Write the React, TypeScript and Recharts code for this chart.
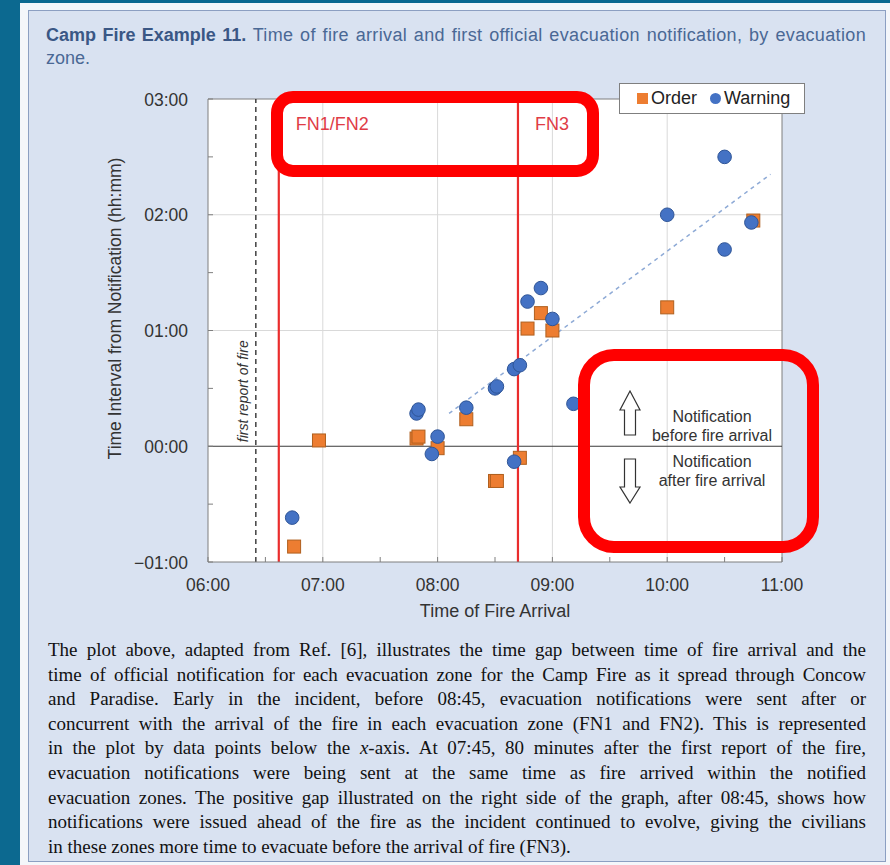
import React from 'react';
import {
  ScatterChart,
  Scatter,
  XAxis,
  YAxis,
  ReferenceLine,
  CartesianGrid,
  Legend,
} from 'recharts';

// ---------- data ----------
const orderArrival = ['06:45', '06:58', '07:49', '07:50', '08:00', '08:15', '08:30', '08:31', '08:43', '08:47', '08:54', '09:00', '10:00', '10:45'];
const orderLeadMin = [-52, 3, 4, 5, -1, 14, -18, -18, -6, 61, 69, 60, 72, 117];

const warningArrival = ['06:44', '07:49', '07:50', '07:57', '08:00', '08:15', '08:30', '08:31', '08:40', '08:43', '08:47', '08:54', '09:00', '09:11', '08:40', '10:00', '10:30', '10:30', '10:44'];
const warningLeadMin = [-37, 17, 19, -4, 5, 20, 30, 31, 40, 42, 75, 82, 66, 22, -8, 120, 150, 102, 116];

const trendArrival = ['08:06', '10:54'];
const trendLeadMin = [17, 141];

const firstReportTime = '06:25';
const fnLineTimes = ['06:37', '08:42'];
const fnLineLabels = ['FN1/FN2', 'FN3'];

const xTickTimes = ['06:00', '06:30', '07:00', '07:30', '08:00', '08:30', '09:00', '09:30', '10:00', '10:30', '11:00'];
const xGridTimes = ['07:00', '08:00', '09:00', '10:00'];
const yTickMin = [-60, -30, 0, 30, 60, 90, 120, 150, 180];
const yGridMin = [60, 120];

const captionLines = [
  'The plot above, adapted from Ref. [6], illustrates the time gap between time of fire arrival and the',
  'time of official notification for each evacuation zone for the Camp Fire as it spread through Concow',
  'and Paradise. Early in the incident, before 08:45, evacuation notifications were sent after or',
  'concurrent with the arrival of the fire in each evacuation zone (FN1 and FN2). This is represented',
  'in the plot by data points below the x-axis. At 07:45, 80 minutes after the first report of the fire,',
  'evacuation notifications were being sent at the same time as fire arrived within the notified',
  'evacuation zones. The positive gap illustrated on the right side of the graph, after 08:45, shows how',
  'notifications were issued ahead of the fire as the incident continued to evolve, giving the civilians',
  'in these zones more time to evacuate before the arrival of fire (FN3).',
];

// ---------- helpers ----------
const SANS = '"Liberation Sans", Arial, sans-serif';
const SERIF = '"Liberation Serif", "Times New Roman", serif';

const hhmm = (s: string) => {
  const [h, m] = s.split(':').map(Number);
  return h + m / 60;
};
const pad = (n: number) => String(n).padStart(2, '0');
const fmtHours = (v: number) => {
  if (Math.abs(v - Math.round(v)) > 1e-6) return '';
  const r = Math.round(v);
  return `${r < 0 ? '\u2212' : ''}${pad(Math.abs(r))}:00`;
};

const orderData = orderArrival.map((t, i) => ({ x: hhmm(t), y: orderLeadMin[i] / 60 }));
const warningData = warningArrival.map((t, i) => ({ x: hhmm(t), y: warningLeadMin[i] / 60 }));
const trendSegment = trendArrival.map((t, i) => ({ x: hhmm(t), y: trendLeadMin[i] / 60 }));
const xTicks = xTickTimes.map(hhmm);
const yTicks = yTickMin.map((m) => m / 60);

const ORANGE = '#ED7D31';
const BLUE = '#4472C4';
const RED = '#ea2d2d';
const AXIS = '#7f7f7f';

const X_MARGIN = 17;
const Y_MARGIN = 20;

const XTick = (p: any) => {
  const label = fmtHours(p.payload.value);
  const ay = p.y - X_MARGIN;
  return (
    <g>
      <line x1={p.x} x2={p.x} y1={ay} y2={ay - 5} stroke={AXIS} strokeWidth={1} />
      {label ? (
        <text x={p.x} y={p.y} dy="0.71em" textAnchor="middle" fontFamily={SANS} fontSize={17.5} fill="#333">
          {label}
        </text>
      ) : null}
    </g>
  );
};

const YTick = (p: any) => {
  const label = fmtHours(p.payload.value);
  const ax = p.x + Y_MARGIN;
  return (
    <g>
      <line x1={ax} x2={ax + 5} y1={p.y} y2={p.y} stroke={AXIS} strokeWidth={1} />
      {label ? (
        <text x={p.x} y={p.y} dy="0.38em" textAnchor="end" fontFamily={SANS} fontSize={17.5} fill="#333">
          {label}
        </text>
      ) : null}
    </g>
  );
};

const OrderMark = (p: any) => (
  <rect x={p.cx - 6.5} y={p.cy - 6.5} width={13} height={13} fill={ORANGE} stroke="#b0601f" strokeWidth={1} />
);
const WarnMark = (p: any) => (
  <circle cx={p.cx} cy={p.cy} r={6.8} fill={BLUE} stroke="#2f5597" strokeWidth={1} />
);

const fnLabel = (text: string) => (props: any) => {
  const vb = props.viewBox || {};
  return (
    <text x={vb.x + 17} y={vb.y + 31} fill="#e03c46" fontSize={18} fontFamily={SANS}>
      {text}
    </text>
  );
};

const firstReportLabel = (props: any) => {
  const vb = props.viewBox || {};
  const x = vb.x - 8;
  const y = vb.y + vb.height * 0.75 - 4;
  return (
    <text
      x={x}
      y={y}
      transform={`rotate(-90, ${x}, ${y})`}
      textAnchor="start"
      fontStyle="italic"
      fontSize={14}
      fontFamily={SANS}
      fill="#333"
    >
      first report of fire
    </text>
  );
};

const xAxisTitle = (props: any) => {
  const vb = props.viewBox || {};
  return (
    <text x={vb.x + vb.width / 2} y={vb.y + 55} textAnchor="middle" fontFamily={SANS} fontSize={18} fill="#333">
      Time of Fire Arrival
    </text>
  );
};

const yAxisTitle = (props: any) => {
  const vb = props.viewBox || {};
  const x = vb.x - 27;
  const y = vb.y + vb.height / 2 - 22;
  return (
    <text
      x={x}
      y={y}
      transform={`rotate(-90, ${x}, ${y})`}
      textAnchor="middle"
      fontFamily={SANS}
      fontSize={17.5}
      fill="#333"
    >
      Time Interval from Notification (hh:mm)
    </text>
  );
};

const LegendBox = (props: any) => {
  const items = (props.payload || []).filter((it: any) => it.value === 'Order' || it.value === 'Warning');
  return (
    <div
      style={{
        width: 186,
        height: 31,
        boxSizing: 'border-box',
        border: `1px solid ${AXIS}`,
        background: '#fff',
        display: 'flex',
        alignItems: 'center',
        paddingLeft: 17,
        fontFamily: SANS,
        fontSize: 18,
        color: '#222',
      }}
    >
      {items.map((it: any, i: number) => (
        <span key={it.value} style={{ display: 'flex', alignItems: 'center', marginLeft: i === 0 ? 0 : 13 }}>
          <span
            style={{
              display: 'inline-block',
              width: 11,
              height: 11,
              background: it.value === 'Order' ? ORANGE : BLUE,
              borderRadius: it.value === 'Order' ? 0 : '50%',
              marginRight: 3,
            }}
          />
          {it.value}
        </span>
      ))}
    </div>
  );
};

export default function App() {
  return (
    <div style={{ position: 'absolute', left: 0, top: 0, width: 890, height: 865, background: '#0c6990', overflow: 'hidden' }}>
      <div style={{ position: 'absolute', left: 20, top: 3, width: 870, height: 862, background: '#f4f6fa' }} />
      <div
        style={{
          position: 'absolute',
          left: 28,
          top: 10,
          width: 858,
          height: 852,
          boxSizing: 'border-box',
          border: '1px solid #8c9fc2',
          background: '#d9e2f1',
        }}
      />

      {/* Title */}
      <div
        style={{
          position: 'absolute',
          left: 46,
          top: 24,
          width: 820,
          fontFamily: SANS,
          fontSize: 18,
          lineHeight: '23px',
          color: '#4a6895',
        }}
      >
        <div style={{ textAlign: 'justify', textAlignLast: 'justify', whiteSpace: 'nowrap' } as any}>
          <b style={{ color: '#3a5785' }}>Camp Fire Example 11.</b>{' '}
          <span style={{ letterSpacing: '0.35px' }}>
            Time of fire arrival and first official evacuation notification, by evacuation
          </span>
        </div>
        <div>zone.</div>
      </div>

      {/* Chart */}
      <div style={{ position: 'absolute', left: 0, top: 0 }}>
        <ScatterChart width={890} height={865} margin={{ top: 99, right: 108, bottom: 273, left: 148 }}>
          <CartesianGrid horizontal={false} vertical={false} fill="#ffffff" fillOpacity={1} />
          <XAxis
            type="number"
            dataKey="x"
            domain={[6, 11]}
            ticks={xTicks}
            interval={0}
            height={30}
            tickSize={0}
            tickMargin={X_MARGIN}
            tickLine={false}
            tick={<XTick />}
            axisLine={{ stroke: AXIS }}
            label={xAxisTitle}
          />
          <YAxis
            type="number"
            dataKey="y"
            domain={[-1, 3]}
            ticks={yTicks}
            interval={0}
            width={60}
            tickSize={0}
            tickMargin={Y_MARGIN}
            tickLine={false}
            tick={<YTick />}
            axisLine={{ stroke: AXIS }}
            label={yAxisTitle}
          />
          {xGridTimes.map((t) => (
            <ReferenceLine key={'gx' + t} x={hhmm(t)} stroke="#d9d9d9" strokeWidth={1} />
          ))}
          {yGridMin.map((m) => (
            <ReferenceLine key={'gy' + m} y={m / 60} stroke="#d9d9d9" strokeWidth={1} />
          ))}
          <ReferenceLine y={3} stroke={AXIS} strokeWidth={1} />
          <ReferenceLine x={11} stroke={AXIS} strokeWidth={1} />
          <ReferenceLine y={0} stroke="#3a3a3a" strokeWidth={1.2} />
          <ReferenceLine
            x={hhmm(firstReportTime)}
            stroke="#333"
            strokeWidth={1.4}
            strokeDasharray="5 4"
            label={firstReportLabel}
          />
          {fnLineTimes.map((t, i) => (
            <ReferenceLine key={'fn' + t} x={hhmm(t)} stroke={RED} strokeWidth={2.2} label={fnLabel(fnLineLabels[i])} />
          ))}
          <ReferenceLine
            segment={trendSegment}
            stroke="#8eaad6"
            strokeWidth={1.5}
            strokeDasharray="4 4"
          />
          <Scatter name="Order" data={orderData} fill={ORANGE} shape={OrderMark} isAnimationActive={false} />
          <Scatter name="Warning" data={warningData} fill={BLUE} shape={WarnMark} isAnimationActive={false} />
          <Legend
            layout="horizontal"
            verticalAlign="middle"
            align="center"
            content={<LegendBox />}
            wrapperStyle={{ left: 619, top: 83, width: 186, height: 31 }}
          />
        </ScatterChart>
      </div>

      {/* Annotations overlay */}
      <svg
        width={890}
        height={865}
        style={{ position: 'absolute', left: 0, top: 0, pointerEvents: 'none' }}
      >
        <polygon
          points="630,391 640,410 635.5,410 635.5,435 624.5,435 624.5,410 620,410"
          fill="#fff"
          stroke="#333"
          strokeWidth={1.2}
        />
        <polygon
          points="630,503 640,487 635.5,487 635.5,459 624.5,459 624.5,487 620,487"
          fill="#fff"
          stroke="#333"
          strokeWidth={1.2}
        />
        <g fontFamily={SANS} fontSize={16} fill="#333" textAnchor="middle">
          <text x={712} y={422}>Notification</text>
          <text x={712} y={441}>before fire arrival</text>
          <text x={712} y={467}>Notification</text>
          <text x={712} y={486}>after fire arrival</text>
        </g>
        <rect x={277} y={97} width={316} height={74} rx={16} ry={16} fill="none" stroke="#ff0000" strokeWidth={12} />
        <rect x={584} y={355} width={229} height={192} rx={30} ry={30} fill="none" stroke="#ff0000" strokeWidth={12} />
      </svg>

      {/* Caption */}
      <div
        style={{
          position: 'absolute',
          left: 48,
          top: 638,
          width: 818,
          fontFamily: SERIF,
          fontSize: 19,
          lineHeight: '24.6px',
          color: '#111',
        }}
      >
        {captionLines.map((line, i) => {
          const last = i === captionLines.length - 1;
          const parts = line.split('x-axis');
          return (
            <div key={i} style={{ textAlign: last ? 'left' : 'justify', textAlignLast: last ? 'left' : 'justify' } as any}>
              {parts.length > 1 ? (
                <>
                  {parts[0]}
                  <i>x</i>-axis
                  {parts[1]}
                </>
              ) : (
                line
              )}
            </div>
          );
        })}
      </div>
    </div>
  );
}
